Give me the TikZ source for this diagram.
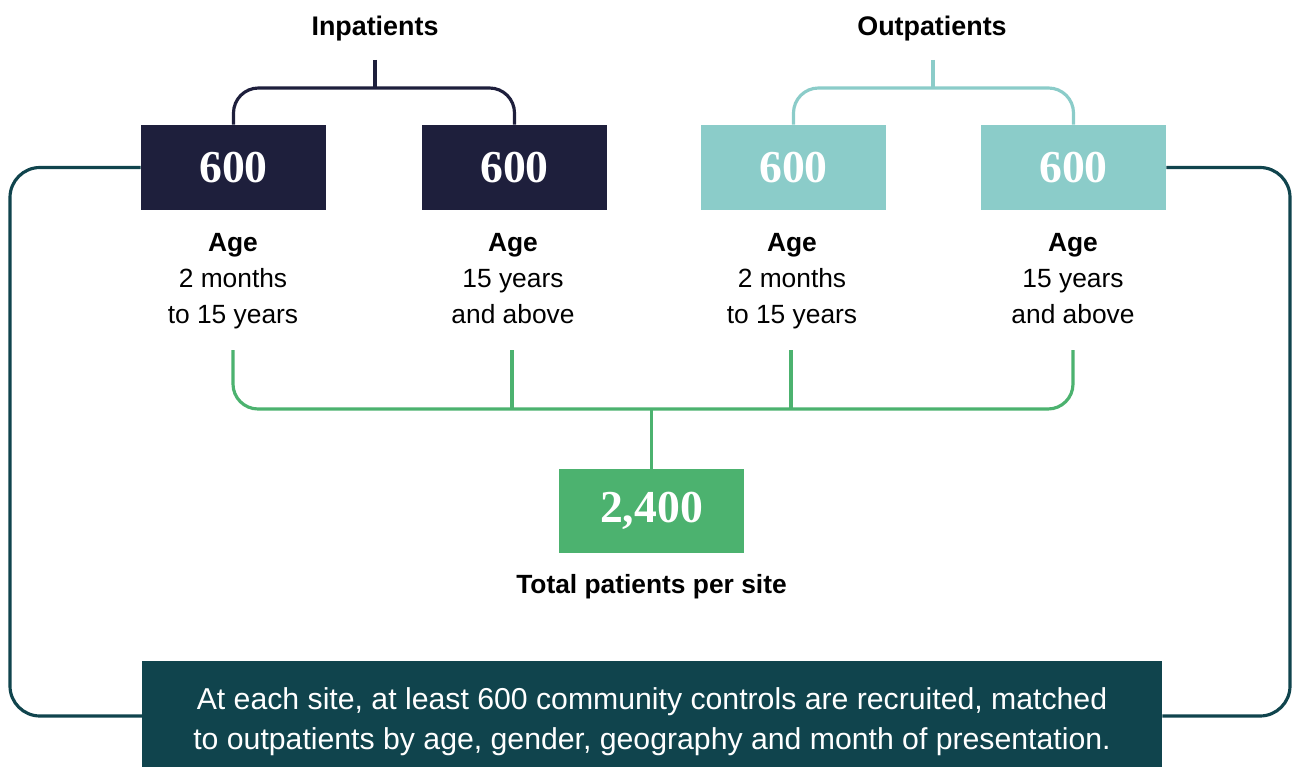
\documentclass[tikz,border=0pt]{standalone}
\usepackage{fontspec}
\setmainfont{Liberation Sans}
\newfontfamily\numfont{Liberation Serif}
\usetikzlibrary{positioning,calc,backgrounds}
\definecolor{navy}{HTML}{1E1F3C}
\definecolor{lteal}{HTML}{8BCCC9}
\definecolor{sitegreen}{HTML}{4CB26F}
\definecolor{dteal}{HTML}{10444D}
\tikzset{
  % Base styles
  diagram base/.style={
    x=0.02cm, y=-0.02cm,
    every node/.style={font=\fontsize{15}{20.4}\selectfont},
  },
  % Count boxes
  count box/.style={rectangle, minimum width=3.7cm, minimum height=1.7cm, inner sep=0pt,
    text=white, font=\numfont\bfseries\fontsize{26}{30}\selectfont},
  in box/.style={count box, fill=navy},
  out box/.style={count box, fill=lteal},
  total box/.style={count box, fill=sitegreen, minimum height=1.68cm},
  % Labels
  group label/.style={font=\bfseries\fontsize{15.3}{18}\selectfont},
  age label/.style={align=center, anchor=north},
  note box/.style={rectangle, fill=dteal, text=white, align=center, inner sep=0pt,
    minimum width=20.4cm, minimum height=2.44cm, font=\fontsize{17.2}{22.7}\selectfont},
  % Connectors
  link/.style={line width=1.8pt, rounded corners=0.5cm},
  in link/.style={link, draw=navy},
  out link/.style={link, draw=lteal},
  sum link/.style={link, draw=sitegreen},
  loop link/.style={link, draw=dteal, rounded corners=0.6cm},
}

\begin{document}
\begin{tikzpicture}[diagram base]
\useasboundingbox (0,0) rectangle (1295,767);

% Group headings
\node[group label] (inlab) at (375,29) {Inpatients};
\node[group label] (outlab) at (932,29) {Outpatients};

% Count boxes
\node[in box] (in1) at (233.5,167.5) {600};
\node[in box] (in2) at (514.5,167.5) {600};
\node[out box] (out1) at (793.5,167.5) {600};
\node[out box] (out2) at (1073.5,167.5) {600};

% Age ranges
\node[age label] (age1) at (233,227) {\textbf{Age}\\2 months\\to 15 years};
\node[age label] (age2) at (513,227) {\textbf{Age}\\15 years\\and above};
\node[age label] (age3) at (792,227) {\textbf{Age}\\2 months\\to 15 years};
\node[age label] (age4) at (1073,227) {\textbf{Age}\\15 years\\and above};

% Total
\node[total box] (total) at (651.5,511) {2,400};
\node[font=\bfseries\fontsize{15}{18}\selectfont] (totlab) at (651.5,587) {Total patients per site};

% Controls note (runs off the bottom edge)
\node[note box] (note) at (652,722) {At each site, at least 600 community controls are recruited, matched\\to outpatients by age, gender, geography and month of presentation.};

% Hubs and free ends
\coordinate (intop) at (375,60);
\coordinate (inhub) at (375,88);
\coordinate (outtop) at (933,60);
\coordinate (outhub) at (933,88);
\coordinate (g1) at (233,350);
\coordinate (g2) at (512,350);
\coordinate (g3) at (791,350);
\coordinate (g4) at (1073,350);
\coordinate (ghub) at (651.5,409);
\coordinate (lcorner) at (10,716);
\coordinate (rcorner) at (1290,716);

% Top brackets
\draw[in link] (intop) -- (inhub);
\draw[in link] (in1.north) |- (inhub) -| (in2.north);
\draw[out link] (outtop) -- (outhub);
\draw[out link] (out1.north) |- (outhub) -| (out2.north);

% Bottom bracket
\draw[sum link] (g1) |- (ghub) -| (g4);
\draw[sum link] (g2) -- (g2 |- ghub);
\draw[sum link] (g3) -- (g3 |- ghub);
\draw[sum link] (ghub) -- (total.north);

% Controls loop, behind the note
\begin{scope}[on background layer]
\draw[loop link] (in1.west) -| (lcorner) -- (note.west |- lcorner);
\draw[loop link] (out2.east) -| (rcorner) -- (note.east |- rcorner);
\end{scope}
\end{tikzpicture}
\end{document}
